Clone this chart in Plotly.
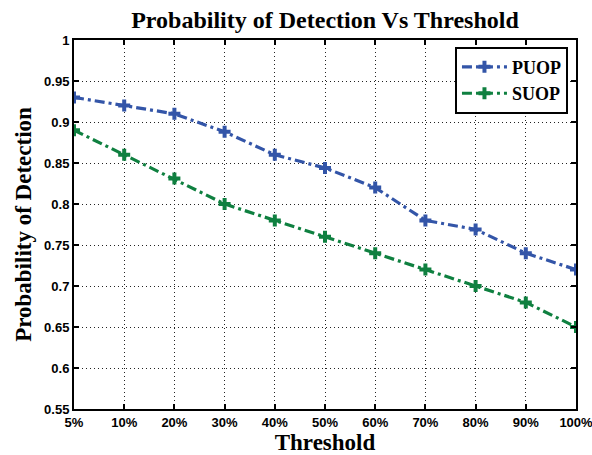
import plotly.graph_objects as go

thresholds = ["5%", "10%", "20%", "30%", "40%", "50%", "60%", "70%", "80%", "90%", "100%"]
puop = [0.93, 0.92, 0.91, 0.888, 0.86, 0.844, 0.82, 0.78, 0.769, 0.74, 0.72]
suop = [0.89, 0.86, 0.831, 0.80, 0.78, 0.76, 0.74, 0.72, 0.70, 0.68, 0.65]
y_ticks = [0.55, 0.6, 0.65, 0.7, 0.75, 0.8, 0.85, 0.9, 0.95, 1]
y_tick_labels = ["0.55", "0.6", "0.65", "0.7", "0.75", "0.8", "0.85", "0.9", "0.95", "1"]

xs = list(range(len(thresholds)))
blue = "#3355A8"
green = "#0F8040"
dash_style = "10px,4px,3px,4px"

fig = go.Figure()
fig.add_trace(go.Scatter(x=xs, y=puop, name="<b>PUOP</b>", mode="lines+markers",
                         line=dict(color=blue, width=3.2, dash=dash_style),
                         marker=dict(symbol="cross", size=10, color=blue)))
fig.add_trace(go.Scatter(x=xs, y=suop, name="<b>SUOP</b>", mode="lines+markers",
                         line=dict(color=green, width=3.2, dash=dash_style),
                         marker=dict(symbol="cross", size=10, color=green)))

tickfont = dict(family="Liberation Sans, Arial", size=13, color="black")
serif = "Liberation Serif, Times New Roman"
common_axis = dict(tickfont=tickfont, showgrid=True, gridcolor="#222222", griddash="1px,3px", gridwidth=1,
                   showline=True, linecolor="black", linewidth=2, mirror="ticks",
                   ticks="inside", ticklen=5, tickcolor="black", tickwidth=1.5,
                   zeroline=False, automargin=False, ticklabeloverflow="allow")
fig.update_layout(
    width=592, height=455,
    margin=dict(l=74, r=16, t=40, b=46),
    paper_bgcolor="white", plot_bgcolor="white",
    title=dict(text="<b>Probability of Detection Vs Threshold</b>",
               font=dict(family=serif, size=24, color="black"),
               x=(74 + 576) / 2 / 592, xanchor="center", xref="container",
               y=1 - 20 / 455, yanchor="middle"),
    xaxis=dict(range=[0, 10], tickvals=xs, ticktext=["<b>%s</b>" % t for t in thresholds],
               title=dict(text="<b>Threshold</b>", standoff=4,
                          font=dict(family=serif, size=23, color="black")),
               **common_axis),
    yaxis=dict(range=[0.55, 1], tickvals=y_ticks, ticktext=["<b>%s</b>" % t for t in y_tick_labels],
               title=dict(text="<b>Probability of Detection</b>", standoff=6,
                          font=dict(family=serif, size=23, color="black")),
               **common_axis),
    legend=dict(x=0.984, y=0.982, xanchor="right", yanchor="top",
                bgcolor="white", bordercolor="black", borderwidth=2,
                font=dict(family=serif, size=18, color="black"),
                itemwidth=45),
    showlegend=True,
)

fig.write_html("out.html", config={"displayModeBar": False},
               post_script="document.body.style.margin='0';")
